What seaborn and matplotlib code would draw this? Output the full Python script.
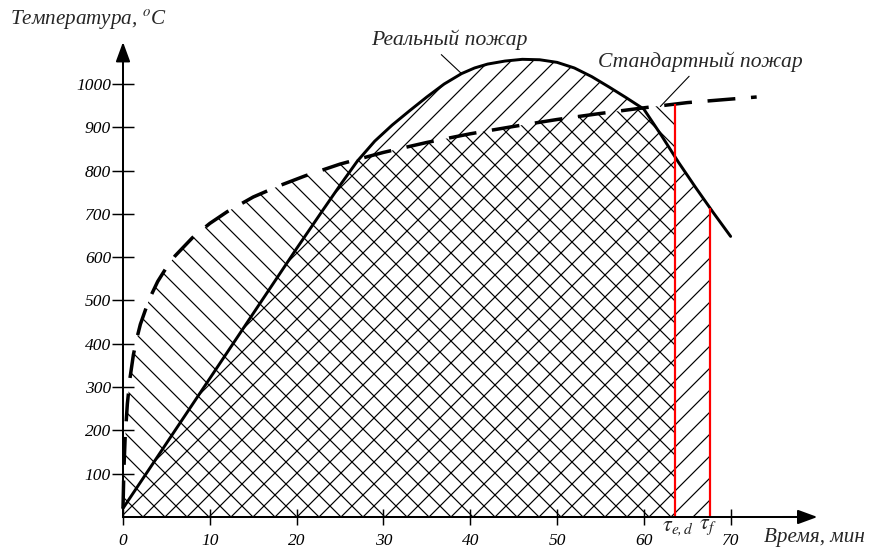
import numpy as np
import seaborn as sns
import matplotlib.pyplot as plt

# time (min) / temperature (C)
std_t = [0, 0.1, 0.25, 0.5, 0.8, 1.2, 1.6, 2, 3, 4, 5, 6, 8, 10, 12, 15, 18, 21,
         25, 30, 35, 40, 45, 50, 55, 60, 65, 73]
std_T = [20, 108, 185, 261, 320, 375, 413, 445, 502, 544, 576, 603, 645, 678, 705,
         739, 765, 788, 815, 842, 865, 885, 902, 918, 932, 945, 957, 970]

real_t = [0, 5, 10, 15, 20, 23, 25, 27, 29, 31, 33, 35, 37, 39, 40.5, 42, 44, 46,
          48, 50, 52, 54, 56, 58, 60, 62, 64, 66, 68, 70]
real_T = [20, 170, 320, 470, 620, 708, 766, 822, 868, 905, 938, 970, 1000, 1024,
          1037, 1046, 1053, 1057, 1056, 1050, 1037, 1017, 993, 968, 942, 882, 819,
          760, 703, 648]

t_ed = 63.6   # tau_e,d
t_f = 67.6    # tau_f

x_ticks = [0, 10, 20, 30, 40, 50, 60, 70]
y_ticks = [100, 200, 300, 400, 500, 600, 700, 800, 900, 1000]

sns.set_theme(style='white')
plt.rcParams['font.family'] = ['Liberation Serif', 'DejaVu Serif']
plt.rcParams['font.style'] = 'italic'
plt.rcParams['mathtext.fontset'] = 'stix'
plt.rcParams['hatch.color'] = 'black'
plt.rcParams['hatch.linewidth'] = 0.65

DPI = 132
fig = plt.figure(figsize=(869 / DPI, 547 / DPI), dpi=DPI)
ax = fig.add_axes([0, 0, 1, 1])
ax.set_xlim(-14.17, 85.94)
ax.set_ylim(-69.3, 1194)

# hatched areas
tt = np.linspace(0, t_ed, 400)
ax.fill_between(tt, 0, np.interp(tt, std_t, std_T), facecolor='none',
                edgecolor='black', hatch='\\\\', linewidth=0, zorder=1)
tr = np.linspace(0, t_f, 400)
ax.fill_between(tr, 0, np.interp(tr, real_t, real_T), facecolor='none',
                edgecolor='black', hatch='//', linewidth=0, zorder=1)

# curves
sns.lineplot(x=real_t, y=real_T, ax=ax, color='black', linewidth=1.6, zorder=3)
sns.lineplot(x=std_t, y=std_T, ax=ax, color='black', linewidth=1.9,
             linestyle=(0, (8, 4.5)), zorder=3)

# red limits
ax.vlines(t_ed, 0, np.interp(t_ed, std_t, std_T), color='red', linewidth=1.2, zorder=4)
ax.vlines(t_f, 0, np.interp(t_f, real_t, real_T), color='red', linewidth=1.2, zorder=4)

# axes through the origin with arrows
for s in ['top', 'right']:
    ax.spines[s].set_visible(False)
ax.spines['left'].set_position(('data', 0))
ax.spines['bottom'].set_position(('data', 0))
ax.spines['left'].set_bounds(0, 1085)
ax.spines['bottom'].set_bounds(0, 79)
for s in ['left', 'bottom']:
    ax.spines[s].set_linewidth(1.1)
    ax.spines[s].set_color('black')
    ax.spines[s].set_zorder(5)
arrow = dict(arrowstyle='-|>,head_length=0.9,head_width=0.33', color='black',
             lw=1.1, shrinkA=0, shrinkB=0, mutation_scale=10)
ax.annotate('', xy=(0, 1097), xytext=(0, 1060), arrowprops=arrow)
ax.annotate('', xy=(80, 0), xytext=(76, 0), arrowprops=arrow)

ax.set_xticks(x_ticks)
ax.set_xticklabels([str(v) for v in x_ticks])
ax.set_yticks(y_ticks)
ax.set_yticklabels([str(v) for v in y_ticks])
ax.tick_params(axis='y', direction='inout', length=12, width=0.8, pad=0.5,
               labelsize=9.5, colors='black', left=True)
ax.tick_params(axis='x', direction='inout', length=9, width=0.8, pad=4,
               labelsize=9.5, colors='black', bottom=True)
ax.grid(False)

# labels
ax.text(-13.0, 1148, 'Температура, $^{o}$C', fontsize=11.5, ha='left', va='center')
ax.text(85.5, -48.5, 'Время, мин', fontsize=11.5, ha='right', va='center')
ax.text(63.9, -2, r'$\tau_{e,d}$', fontsize=12, ha='center', va='top')
ax.text(67.4, -2, r'$\tau_{f}$', fontsize=12, ha='center', va='top')

ax.annotate('Реальный пожар', xy=(39.0, 1024), xytext=(37.6, 1101), fontsize=11.8,
            ha='center', va='center',
            arrowprops=dict(arrowstyle='-', lw=0.6, color='black', relpos=(0.42, 0),
                            shrinkA=0, shrinkB=0))
ax.annotate('Стандартный пожар', xy=(61.9, 948), xytext=(66.5, 1051), fontsize=11.8,
            ha='center', va='center',
            arrowprops=dict(arrowstyle='-', lw=0.6, color='black', relpos=(0.465, 0),
                            shrinkA=0, shrinkB=0))

fig.savefig('out.png', dpi=DPI)
